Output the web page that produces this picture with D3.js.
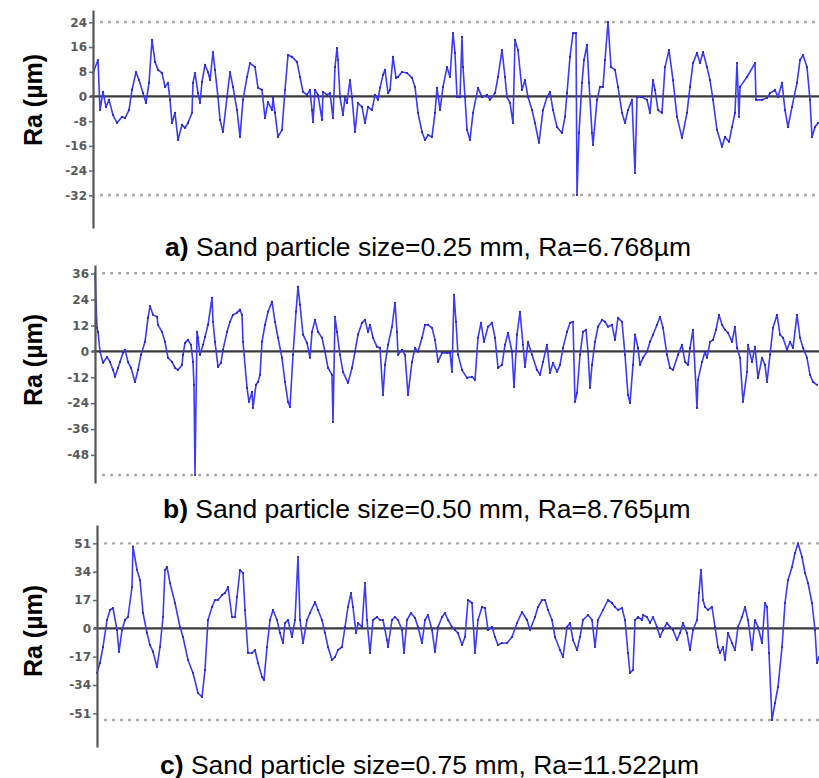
<!DOCTYPE html>
<html>
<head>
<meta charset="utf-8">
<script src="https://cdn.jsdelivr.net/npm/d3@7"></script>
<style>
  html, body { margin: 0; padding: 0; background: #fff; }
  svg { display: block; }
</style>
</head>
<body>
<svg id="chart" width="819" height="778"></svg>
<script>
// Surface roughness profiles: [position along trace (sample), height (µm)]
const profileA = [
  [0,7.6],[5,11.8],[7,-4.4],[10,1.5],[13,-3.4],[16,-1.1],[20,-6.0],[24,-8.6],[29,-6.6],[32,-7.0],[36,-4.4],[39,2.1],[43,7.9],[46,5.3],[50,1.1],[53,-2.1],[56,4.4],[59,18.3],[62,11.2],[65,8.6],[69,7.6],[72,3.1],[75,4.4],[77,-1.1],[79,-8.6],[82,-5.3],[85,-14.1],[89,-9.2],[92,-10.2],[95,-8.6],[99,-5.3],[100,4.4],[102,7.6],[105,1.1],[107,-2.1],[109,4.7],[112,10.2],[115,7.9],[117,5.3],[120,14.4],[122,8.6],[125,-0.2],[127,-7.6],[130,-11.5],[134,-0.2],[137,7.9],[140,3.1],[144,-4.4],[147,-13.1],[150,-1.1],[154,6.3],[157,10.8],[162,9.5],[165,2.8],[169,2.1],[172,-7.0],[175,-1.8],[179,-4.4],[180,-0.5],[182,-5.3],[185,-13.1],[189,-10.8],[192,2.1],[195,13.4],[199,12.8],[204,11.2],[207,6.3],[210,1.5],[214,0.5],[217,2.1],[219,-4.4],[220,-8.3],[222,2.1],[225,0.5],[229,-7.6],[230,1.5],[234,0.5],[237,1.1],[240,-7.0],[242,9.5],[244,15.7],[245,11.8],[247,-0.2],[250,-6.0],[252,-0.2],[254,-2.1],[257,5.3],[259,-0.2],[262,-11.5],[265,-2.1],[269,-3.4],[272,-8.6],[275,-3.4],[279,-4.4],[282,0.5],[285,-1.1],[287,2.8],[290,7.0],[292,8.6],[295,1.1],[297,2.1],[300,12.8],[303,6.0],[305,6.3],[309,7.9],[314,7.6],[319,6.0],[322,3.1],[325,-5.3],[329,-11.5],[332,-14.1],[335,-12.5],[339,-13.1],[342,-5.3],[344,2.8],[347,-4.4],[350,3.1],[354,9.5],[357,6.3],[360,20.5],[362,14.1],[364,-0.2],[367,-0.2],[369,19.3],[370,9.5],[372,-0.2],[374,-10.8],[377,-14.1],[380,-5.3],[385,2.8],[389,-0.2],[394,0.5],[397,-1.1],[402,1.1],[405,6.3],[409,15.0],[412,6.3],[414,-0.2],[417,-2.1],[420,-8.6],[422,18.3],[425,15.0],[429,2.1],[432,5.3],[435,-0.2],[439,-4.4],[442,-8.6],[446,-15.0],[450,-4.4],[454,-0.2],[457,1.5],[460,-4.4],[464,-9.9],[469,-11.8],[472,-6.6],[474,1.1],[477,12.8],[480,20.5],[483,20.5],[484,-31.9],[486,-11.8],[489,4.4],[491,11.8],[494,16.7],[496,4.4],[499,-11.8],[500,-15.7],[504,-1.1],[507,3.1],[510,3.1],[512,11.8],[515,24.1],[518,9.5],[522,8.6],[525,3.1],[529,-5.3],[532,-8.6],[535,-4.4],[539,-1.1],[542,-24.8],[544,-0.2],[549,-0.2],[554,-1.1],[557,-5.3],[560,5.3],[562,2.1],[565,-4.4],[569,-5.3],[572,9.5],[576,15.0],[580,5.3],[584,-6.6],[589,-13.4],[594,-5.3],[597,3.1],[600,10.8],[604,14.1],[607,10.8],[610,14.4],[614,9.5],[617,5.3],[620,-1.1],[624,-10.8],[629,-16.3],[632,-13.1],[636,-14.7],[639,-9.9],[642,-5.3],[644,10.8],[646,-6.6],[647,3.1],[654,6.3],[662,10.8],[663,-1.1],[669,-1.1],[674,-0.5],[677,1.1],[682,2.1],[685,-0.2],[689,4.4],[692,-4.4],[695,-9.9],[699,-3.4],[704,4.4],[707,11.8],[710,13.4],[714,9.5],[717,-1.1],[719,-13.1],[722,-9.9],[725,-8.6]
];

const profileB = [
  [0,36.2],[2,10.9],[3,9.0],[5,-0.2],[8,-5.3],[12,-2.6],[15,-4.9],[18,-8.6],[20,-11.8],[23,-7.7],[25,-4.9],[28,-0.7],[30,0.7],[33,-4.9],[36,-7.7],[40,-14.2],[43,-8.6],[46,-1.6],[50,4.4],[53,15.5],[55,21.0],[58,16.9],[62,16.0],[63,12.3],[67,9.0],[70,4.4],[73,-3.0],[77,-4.9],[80,-7.7],[83,-8.6],[87,-6.3],[88,-1.6],[90,3.9],[93,5.3],[96,3.0],[98,-4.9],[99,-15.5],[100,-57.3],[102,9.0],[103,6.3],[105,-1.6],[108,3.0],[110,6.7],[113,12.3],[117,24.8],[118,13.7],[120,4.4],[123,-7.2],[126,-5.3],[128,0.7],[132,9.0],[135,13.7],[138,16.9],[142,17.9],[145,19.3],[147,16.9],[148,4.4],[152,-16.9],[154,-23.4],[157,-18.8],[158,-26.2],[161,-15.5],[163,-14.2],[165,-10.9],[167,4.4],[170,12.3],[173,18.3],[177,23.0],[180,13.7],[183,6.3],[187,-3.0],[190,-14.2],[193,-23.4],[195,-25.8],[198,-1.6],[201,18.3],[203,29.9],[205,21.6],[208,7.7],[212,3.9],[215,-3.0],[217,9.0],[220,14.6],[223,9.0],[227,6.3],[230,-0.2],[233,-7.7],[237,-10.9],[238,-32.7],[240,16.0],[242,9.0],[245,-1.6],[248,-9.5],[253,-14.6],[257,-7.7],[260,-0.2],[263,7.7],[267,13.2],[270,14.6],[273,9.0],[275,12.3],[278,6.3],[282,2.1],[285,1.6],[288,-20.2],[290,-6.3],[293,3.0],[297,11.4],[300,22.5],[302,9.0],[303,-1.6],[307,0.7],[310,-1.6],[313,-20.2],[317,-4.9],[320,1.6],[323,-0.2],[327,6.3],[330,12.3],[333,12.3],[337,10.9],[340,5.3],[343,-4.9],[347,-0.7],[352,-0.7],[355,-0.7],[357,-9.5],[359,26.2],[361,13.7],[363,-1.6],[367,-8.6],[372,-12.3],[377,-11.8],[380,-13.2],[383,6.3],[386,13.2],[389,4.4],[393,11.4],[397,13.2],[400,6.3],[403,-7.7],[407,-6.3],[410,3.0],[413,8.6],[417,-0.2],[419,-16.5],[422,7.7],[425,18.3],[428,3.0],[430,-7.2],[433,4.4],[437,-1.6],[442,-8.6],[445,-10.9],[448,-4.9],[452,3.0],[455,-10.0],[458,-5.3],[462,-9.5],[465,-6.3],[468,1.6],[472,9.0],[475,13.2],[478,13.7],[480,-23.4],[482,-19.3],[485,-1.6],[488,9.0],[491,10.0],[493,-0.2],[495,-16.9],[497,-6.3],[500,4.4],[503,11.4],[507,14.6],[510,13.7],[513,11.4],[517,12.3],[520,5.3],[523,15.5],[527,13.7],[530,-1.6],[533,-20.2],[535,-23.9],[538,-6.3],[540,7.7],[543,1.6],[545,-6.3],[548,-3.0],[552,-0.2],[555,4.4],[558,7.7],[562,12.3],[565,16.0],[568,10.9],[572,-1.6],[575,-7.7],[578,-8.6],[583,-1.6],[587,3.0],[590,-4.9],[593,-6.3],[595,1.6],[598,10.0],[602,-26.2],[603,-13.2],[607,-4.9],[610,-0.2],[612,-3.0],[615,4.4],[618,5.3],[621,10.0],[624,16.9],[627,12.3],[630,10.0],[633,8.6],[637,4.4],[640,11.4],[642,1.6],[645,-3.0],[648,-23.4],[652,-9.5],[653,3.0],[657,-4.9],[660,2.1],[663,-12.3],[667,-3.0],[670,-6.3],[672,-14.2],[675,-1.6],[678,10.9],[682,16.9],[685,7.7],[688,6.3],[692,0.7],[695,4.4],[698,1.6],[702,16.9],[705,6.3],[708,1.6],[712,-3.0],[715,-10.9],[718,-14.2],[722,-15.5]
];

const profileC = [
  [0,-26.8],[3,-20.8],[6,-11.2],[10,5.0],[13,11.0],[16,12.2],[20,-1.0],[22,-14.2],[25,-1.0],[28,5.0],[31,6.8],[35,24.8],[36,49.0],[40,35.0],[43,29.0],[46,9.2],[50,-2.8],[53,-10.0],[56,-14.0],[60,-23.2],[63,-11.2],[66,6.8],[68,35.0],[70,36.8],[73,27.2],[78,15.2],[83,0.8],[86,-5.2],[91,-19.0],[96,-26.8],[101,-38.8],[105,-41.2],[108,-25.0],[111,5.0],[115,12.8],[118,17.0],[121,17.0],[125,20.0],[128,21.2],[131,24.8],[135,6.8],[138,6.8],[140,18.8],[143,35.0],[146,33.2],[148,11.0],[151,-14.8],[155,-14.8],[158,-13.0],[161,-20.8],[165,-29.2],[167,-31.0],[170,-11.2],[173,5.0],[176,11.0],[180,5.0],[183,-2.8],[186,-8.8],[188,3.2],[191,5.0],[195,-5.2],[198,5.0],[201,42.8],[203,5.0],[206,-8.8],[210,5.0],[213,9.2],[218,15.8],[221,11.0],[225,5.0],[228,-2.8],[231,-11.2],[235,-19.0],[238,-17.2],[241,-13.0],[245,-11.2],[248,0.8],[251,12.8],[254,21.2],[256,12.8],[259,-2.8],[261,3.2],[265,0.8],[268,27.2],[270,5.0],[273,-14.8],[276,5.0],[280,6.8],[283,5.0],[286,5.0],[290,-7.0],[291,-11.2],[295,5.0],[298,6.8],[301,5.0],[305,-1.0],[307,-14.8],[310,5.0],[314,9.2],[318,6.2],[321,0.8],[325,-8.8],[328,5.0],[331,8.0],[335,-1.0],[338,-14.2],[341,0.8],[345,6.8],[348,9.2],[351,5.0],[355,0.8],[358,-1.0],[361,-2.8],[365,-10.0],[368,-5.2],[371,17.0],[375,15.2],[378,-14.8],[381,5.0],[385,12.8],[388,12.2],[391,-1.0],[395,0.8],[398,-5.2],[401,-10.0],[405,-8.8],[410,-8.8],[415,-5.2],[420,3.2],[425,9.8],[430,5.0],[433,-1.0],[438,6.8],[441,12.8],[445,17.0],[448,17.0],[451,11.0],[455,5.0],[458,-5.2],[463,-13.0],[466,-17.2],[470,0.8],[473,3.2],[476,-7.0],[480,-13.0],[483,-5.2],[486,5.0],[491,8.0],[495,5.0],[498,-11.2],[501,5.0],[506,11.0],[511,17.0],[515,15.2],[518,12.8],[521,11.0],[525,12.2],[528,5.0],[531,-14.8],[533,-26.8],[536,-25.0],[538,5.0],[541,6.8],[545,5.0],[546,8.0],[550,6.8],[553,3.2],[556,6.8],[560,0.8],[563,-5.2],[566,-1.0],[570,3.2],[573,0.8],[576,-1.0],[580,-7.0],[583,-2.8],[586,3.2],[590,-2.8],[593,-13.0],[596,-1.0],[600,5.0],[602,21.2],[604,35.0],[606,17.0],[608,12.8],[611,11.0],[615,12.8],[618,0.8],[621,-11.2],[623,-14.8],[626,-11.2],[628,-19.0],[631,-2.8],[635,-8.8],[638,-13.0],[641,0.8],[645,6.8],[648,12.8],[651,5.0],[655,-13.0],[658,5.0],[661,0.8],[665,-8.8],[668,15.2],[670,12.8],[672,-14.8],[675,-55.0],[678,-44.8],[681,-35.2],[685,-11.2],[688,15.2],[691,29.0],[695,36.8],[698,45.2],[701,51.0],[705,42.8],[708,33.2],[711,27.2],[715,15.2],[718,-1.0],[720,-20.8],[722,-17.2]
];

// Height axis tick values for each profile
const ticksA = [24, 16, 8, 0, -8, -16, -24, -32];
const ticksB = [36, 24, 12, 0, -12, -24, -36, -48];
const ticksC = [51, 34, 17, 0, -17, -34, -51];

// Height axis extents (µm) for each profile
const extentA = [-42.6, 28];
const extentB = [-61, 40];
const extentC = [-71.2, 62];

// Caption parts: panel letter, description
const captionTags = ["a)", "b)", "c)"];
const captionTexts = [
  " Sand particle size=0.25 mm, Ra=6.768µm",
  " Sand particle size=0.50 mm, Ra=8.765µm",
  " Sand particle size=0.75 mm, Ra=11.522µm"
];
const yTitle = "Ra (µm)";

// Layout of the three stacked panels
const layout = [
  { data: profileA, ticks: ticksA, extent: extentA, x0: 93, x1: 818, top: 10,  bottom: 228, titleY: 100, capX: 165, capY: 256 },
  { data: profileB, ticks: ticksB, extent: extentB, x0: 95, x1: 817, top: 265, bottom: 483, titleY: 360, capX: 163, capY: 518 },
  { data: profileC, ticks: ticksC, extent: extentC, x0: 97, x1: 819, top: 525, bottom: 747, titleY: 631, capX: 160, capY: 774 }
];

const svg = d3.select("#chart");
const W = 819;

layout.forEach((p, i) => {
  const g = svg.append("g");
  const xMax = d3.max(p.data, d => d[0]);
  const x = d3.scaleLinear().domain([0, xMax]).range([p.x0, p.x1]);
  const y = d3.scaleLinear().domain(p.extent).range([p.bottom, p.top]);

  // Peak and valley reference lines (dotted)
  const peak = d3.max(p.data, d => d[1]);
  const valley = d3.min(p.data, d => d[1]);
  g.selectAll("line.ref")
    .data([peak, valley])
    .join("line")
    .attr("class", "ref")
    .attr("x1", p.x0 + 7).attr("x2", W)
    .attr("y1", d => y(d)).attr("y2", d => y(d))
    .attr("stroke", "#ababab")
    .attr("stroke-width", 2.4)
    .attr("stroke-dasharray", "3,5");

  // Mean (zero) line
  g.append("line")
    .attr("x1", p.x0 - 3).attr("x2", W)
    .attr("y1", y(0)).attr("y2", y(0))
    .attr("stroke", "#3a3a3a")
    .attr("stroke-width", 2.2);

  // Profile trace
  const line = d3.line().x(d => x(d[0])).y(d => y(d[1]));
  g.append("path")
    .datum(p.data)
    .attr("fill", "none")
    .attr("stroke", "#3b3bf2")
    .attr("stroke-width", 1.6)
    .attr("stroke-linejoin", "round")
    .attr("d", line);

  g.selectAll("circle.pt")
    .data(p.data)
    .join("circle")
    .attr("class", "pt")
    .attr("cx", d => x(d[0]))
    .attr("cy", d => y(d[1]))
    .attr("r", 1.1)
    .attr("fill", "#2626b0");

  // Height axis
  const axis = d3.axisLeft(y)
    .tickValues(p.ticks)
    .tickFormat(d => String(d))
    .tickSizeInner(4)
    .tickSizeOuter(0)
    .tickPadding(2);
  const ax = g.append("g")
    .attr("transform", `translate(${p.x0},0)`)
    .call(axis);
  ax.select(".domain").attr("stroke", "#555").attr("stroke-width", 2.2);
  ax.selectAll(".tick line").attr("stroke", "#666").attr("stroke-width", 1.5);
  ax.selectAll(".tick text")
    .attr("fill", "#5a5a5a")
    .attr("font-family", "'DejaVu Sans', sans-serif")
    .attr("font-size", 12)
    .attr("font-weight", "bold");

  // Axis title
  g.append("text")
    .attr("transform", `translate(42,${p.titleY}) rotate(-90)`)
    .attr("text-anchor", "middle")
    .attr("font-family", "'Liberation Sans', Arial, sans-serif")
    .attr("font-size", 25)
    .attr("font-weight", "bold")
    .attr("fill", "#000")
    .text(yTitle);

  // Caption (slightly widened glyphs)
  const cap = g.append("text")
    .attr("transform", `translate(${p.capX},${p.capY}) scale(1.06,1)`)
    .attr("font-family", "'Liberation Sans', Arial, sans-serif")
    .attr("font-size", 25)
    .attr("fill", "#000");
  cap.append("tspan").attr("font-weight", "bold").text(captionTags[i]);
  cap.append("tspan").text(captionTexts[i]);
});
</script>
</body>
</html>
